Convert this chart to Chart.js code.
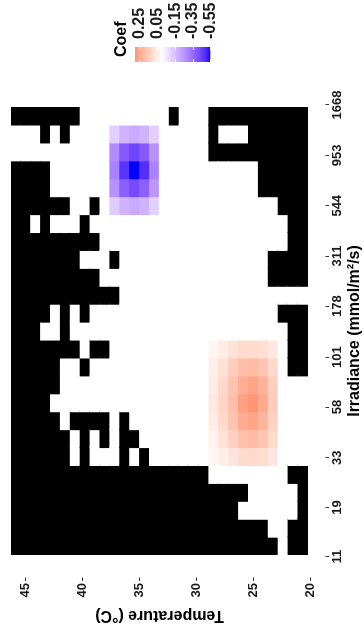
<!DOCTYPE html>
<html>
<head>
<meta charset="utf-8">
<script src="https://cdn.jsdelivr.net/npm/chart.js@4.4.1/dist/chart.umd.min.js"></script>
<style>
  html, body { margin: 0; padding: 0; background: #ffffff; width: 364px; height: 630px; overflow: hidden; }
  /* the figure is drawn in its natural landscape orientation, then turned a quarter turn */
  #wrap { position: absolute; left: -133px; top: 133px; width: 630px; height: 364px; transform: rotate(-90deg); transform-origin: 50% 50%; background: #ffffff; }
  canvas { display: block; }
</style>
</head>
<body>
<div id="wrap"><canvas id="chart" width="630" height="364"></canvas></div>
<script>
// ---------------- data ----------------
const irradianceTicks = [11, 19, 33, 58, 101, 178, 311, 544, 953, 1668];
const temperatureTicks = [20, 25, 30, 35, 40, 45];
const irradianceRange = [11.2, 1631];     // extent of the tile grid (log axis)
const temperatureRange = [20.18, 46.23];  // extent of the tile grid
const coefBreaks = [0.25, 0.05, -0.15, -0.35, -0.55];
const coefLimits = [-0.55, 0.30];

// Cells without an estimate (drawn black).
// One string per irradiance bin, highest irradiance first;
// one character per temperature bin, warmest first.  '#' = NA, '.' = estimate.
const naMask = [
  "#######.........#...##########",
  "...#.#..............#...######",
  "....................##########",
  "####.....................#####",
  "####.....................#####",
  "######..#..................###",
  "##.#...#....................##",
  "#########...................##",
  "#######...#...............####",
  "#########.................####",
  "###########...................",
  "####.#.#...................###",
  "###..#......................##",
  "#######.##..................##",
  "#####..#....................##",
  "#####.........................",
  "####..........................",
  "#####.####.#..................",
  "######.#.#.##.................",
  "######.#...#.#................",
  "####################........##",
  "########################.....#",
  "#######################......#",
  "##########################..##",
  "###########################.##"
];

// Non-zero coefficients (same row/column order as naMask)
const negativeBlobOrigin = [1, 10];   // [row, column] of first cell
const negativeBlob = [
  [-0.115, -0.18, -0.20, -0.18, -0.11],
  [-0.275, -0.395, -0.44, -0.395, -0.26],
  [-0.30, -0.48, -0.55, -0.49, -0.30],
  [-0.26, -0.38, -0.43, -0.38, -0.25],
  [-0.12, -0.18, -0.20, -0.18, -0.11]
];
const positiveBlobOrigin = [13, 20];
const positiveBlob = [
  [0.030, 0.056, 0.083, 0.105, 0.105, 0.096, 0.065],
  [0.046, 0.090, 0.145, 0.185, 0.195, 0.170, 0.108],
  [0.056, 0.111, 0.170, 0.235, 0.260, 0.220, 0.139],
  [0.062, 0.120, 0.185, 0.269, 0.300, 0.244, 0.148],
  [0.056, 0.108, 0.170, 0.238, 0.256, 0.213, 0.133],
  [0.040, 0.087, 0.136, 0.182, 0.195, 0.167, 0.105],
  [0.025, 0.046, 0.077, 0.105, 0.108, 0.099, 0.068]
];

// ---------------- colour scale (diverging, Lab interpolation) ----------------
const LOW_COLOR = [0, 0, 255], MID_COLOR = [255, 255, 255], HIGH_COLOR = [255, 0, 0], NA_COLOR = '#000000';
const REF = [0.95047, 1.0, 1.08883];
function toLin(c) { c /= 255; return c <= 0.04045 ? c / 12.92 : Math.pow((c + 0.055) / 1.055, 2.4); }
function toSrgb(c) { c = Math.min(1, Math.max(0, c)); return Math.round(255 * (c <= 0.0031308 ? 12.92 * c : 1.055 * Math.pow(c, 1 / 2.4) - 0.055)); }
function rgb2lab(rgb) {
  const [r, g, b] = rgb.map(toLin);
  const X = (0.4124 * r + 0.3576 * g + 0.1805 * b) / REF[0];
  const Y = (0.2126 * r + 0.7152 * g + 0.0722 * b) / REF[1];
  const Z = (0.0193 * r + 0.1192 * g + 0.9505 * b) / REF[2];
  const f = t => t > 0.008856 ? Math.cbrt(t) : 7.787 * t + 16 / 116;
  const fx = f(X), fy = f(Y), fz = f(Z);
  return [116 * fy - 16, 500 * (fx - fy), 200 * (fy - fz)];
}
function lab2rgb(lab) {
  const [L, a, bb] = lab;
  const fy = (L + 16) / 116, fx = fy + a / 500, fz = fy - bb / 200;
  const inv = t => t * t * t > 0.008856 ? t * t * t : (t - 16 / 116) / 7.787;
  const X = inv(fx) * REF[0], Y = inv(fy) * REF[1], Z = inv(fz) * REF[2];
  const r = 3.2406 * X - 1.5372 * Y - 0.4986 * Z;
  const g = -0.9689 * X + 1.8758 * Y + 0.0415 * Z;
  const b = 0.0557 * X - 0.2040 * Y + 1.0570 * Z;
  return [toSrgb(r), toSrgb(g), toSrgb(b)];
}
const LAB_LOW = rgb2lab(LOW_COLOR), LAB_MID = rgb2lab(MID_COLOR), LAB_HIGH = rgb2lab(HIGH_COLOR);
const COEF_SPAN = Math.max(Math.abs(coefLimits[0]), Math.abs(coefLimits[1]));
function coefColor(v) {
  if (v === null || v === undefined) return NA_COLOR;
  const t = Math.min(1, Math.abs(v) / COEF_SPAN);
  const end = v < 0 ? LAB_LOW : LAB_HIGH;
  const lab = LAB_MID.map((m, k) => m + (end[k] - m) * t);
  const [r, g, b] = lab2rgb(lab);
  return `rgb(${r},${g},${b})`;
}

// ---------------- build the grid ----------------
const nIrr = naMask.length, nTemp = naMask[0].length;
const coef = naMask.map(row => Array.from(row).map(ch => ch === '#' ? null : 0));
function addBlob(origin, blob) {
  blob.forEach((row, dr) => row.forEach((v, dc) => {
    const r = origin[0] + dr, c = origin[1] + dc;
    if (coef[r][c] !== null) coef[r][c] = v;
  }));
}
addBlob(negativeBlobOrigin, negativeBlob);
addBlob(positiveBlobOrigin, positiveBlob);

const logMin = Math.log(irradianceRange[0]);
const logStep = (Math.log(irradianceRange[1]) - logMin) / nIrr;
const tempStep = (temperatureRange[1] - temperatureRange[0]) / nTemp;

const datasets = [];
for (let j = 0; j < nTemp; j++) {          // temperature bin, coolest first
  const c = nTemp - 1 - j;
  const data = [], colors = [];
  for (let i = 0; i < nIrr; i++) {         // irradiance bin, lowest first
    const r = nIrr - 1 - i;
    data.push({
      x: Math.exp(logMin + (i + 0.5) * logStep),
      y: [temperatureRange[0] + j * tempStep, temperatureRange[0] + (j + 1) * tempStep]
    });
    colors.push(coefColor(coef[r][c]));
  }
  datasets.push({ data, backgroundColor: colors, borderWidth: 0 });
}

// ---------------- colour bar legend ----------------
const FONT = '"Liberation Sans", Arial, Helvetica, sans-serif';
const colorbarPlugin = {
  id: 'coefColorbar',
  afterDraw(chart) {
    const ctx = chart.ctx;
    const bar = { left: 568, width: 15, top: 135, height: 75.3 };
    const lo = coefLimits[0], hi = coefLimits[1];
    const yOf = v => bar.top + (hi - v) / (hi - lo) * bar.height;
    ctx.save();
    const grad = ctx.createLinearGradient(0, bar.top, 0, bar.top + bar.height);
    const steps = 60;
    for (let k = 0; k <= steps; k++) {
      grad.addColorStop(k / steps, coefColor(hi - (hi - lo) * k / steps));
    }
    ctx.fillStyle = grad;
    ctx.fillRect(bar.left, bar.top, bar.width, bar.height);
    ctx.strokeStyle = '#ffffff';
    ctx.lineWidth = 1;
    coefBreaks.forEach(b => {
      const y = Math.round(yOf(b)) + 0.5;
      ctx.beginPath();
      ctx.moveTo(bar.left, y); ctx.lineTo(bar.left + 3, y);
      ctx.moveTo(bar.left + bar.width - 3, y); ctx.lineTo(bar.left + bar.width, y);
      ctx.stroke();
    });
    ctx.fillStyle = '#1a1a1a';
    ctx.font = 'bold 16px ' + FONT;
    ctx.textAlign = 'left';
    ctx.textBaseline = 'middle';
    coefBreaks.forEach(b => ctx.fillText(b.toFixed(2), 591, yOf(b) + 0.5));
    ctx.fillStyle = '#000000';
    ctx.font = 'bold 16px ' + FONT;
    ctx.textBaseline = 'alphabetic';
    ctx.fillText('Coef', 573, 126);
    ctx.restore();
  }
};

// ---------------- chart ----------------
const tickFont = { family: FONT, size: 13, weight: 'bold' };
const titleFont = { family: FONT, size: 16, weight: 'bold' };

new Chart(document.getElementById('chart').getContext('2d'), {
  type: 'bar',
  data: { datasets },
  options: {
    responsive: false,
    animation: false,
    devicePixelRatio: 1,
    events: [],
    layout: { padding: { left: 0, top: 11, right: 107, bottom: 0 } },
    plugins: { legend: { display: false }, tooltip: { enabled: false } },
    datasets: { bar: { grouped: false, barPercentage: 1, categoryPercentage: 1, inflateAmount: 0.6 } },
    scales: {
      x: {
        type: 'logarithmic',
        position: 'bottom',
        bounds: 'data',
        offset: false,
        min: irradianceRange[0],
        max: irradianceRange[1],
        afterBuildTicks: s => { s.ticks = irradianceTicks.map(v => ({ value: v })); },
        afterFit: s => { s.height = 56; },
        border: { display: false },
        grid: { display: true, offset: false, drawOnChartArea: false, drawTicks: true, tickLength: 21,
                tickColor: '#333333', tickWidth: 1, tickBorderDash: [0, 17.5, 3.5, 1000] },
        ticks: { autoSkip: false, minRotation: 0, maxRotation: 0, padding: 1, color: '#1a1a1a', font: tickFont,
                 callback: v => String(v) },
        title: { display: true, text: 'Irradiance (mmol/m²/s)', color: '#000000', font: titleFont,
                 padding: { top: 0, bottom: 0 } }
      },
      y: {
        type: 'linear',
        position: 'left',
        bounds: 'data',
        min: temperatureRange[0],
        max: temperatureRange[1],
        afterBuildTicks: s => { s.ticks = temperatureTicks.map(v => ({ value: v })); },
        afterFit: s => { s.width = 75; },
        border: { display: false },
        grid: { display: true, drawOnChartArea: false, drawTicks: true, tickLength: 26,
                tickColor: '#333333', tickWidth: 1, tickBorderDash: [3.5, 1000] },
        ticks: { autoSkip: false, padding: 2, color: '#1a1a1a', font: tickFont, callback: v => String(v) },
        title: { display: true, text: 'Temperature (°C)', color: '#000000', font: titleFont,
                 padding: { top: 5, bottom: 0 } }
      }
    }
  },
  plugins: [colorbarPlugin]
});
</script>
</body>
</html>
